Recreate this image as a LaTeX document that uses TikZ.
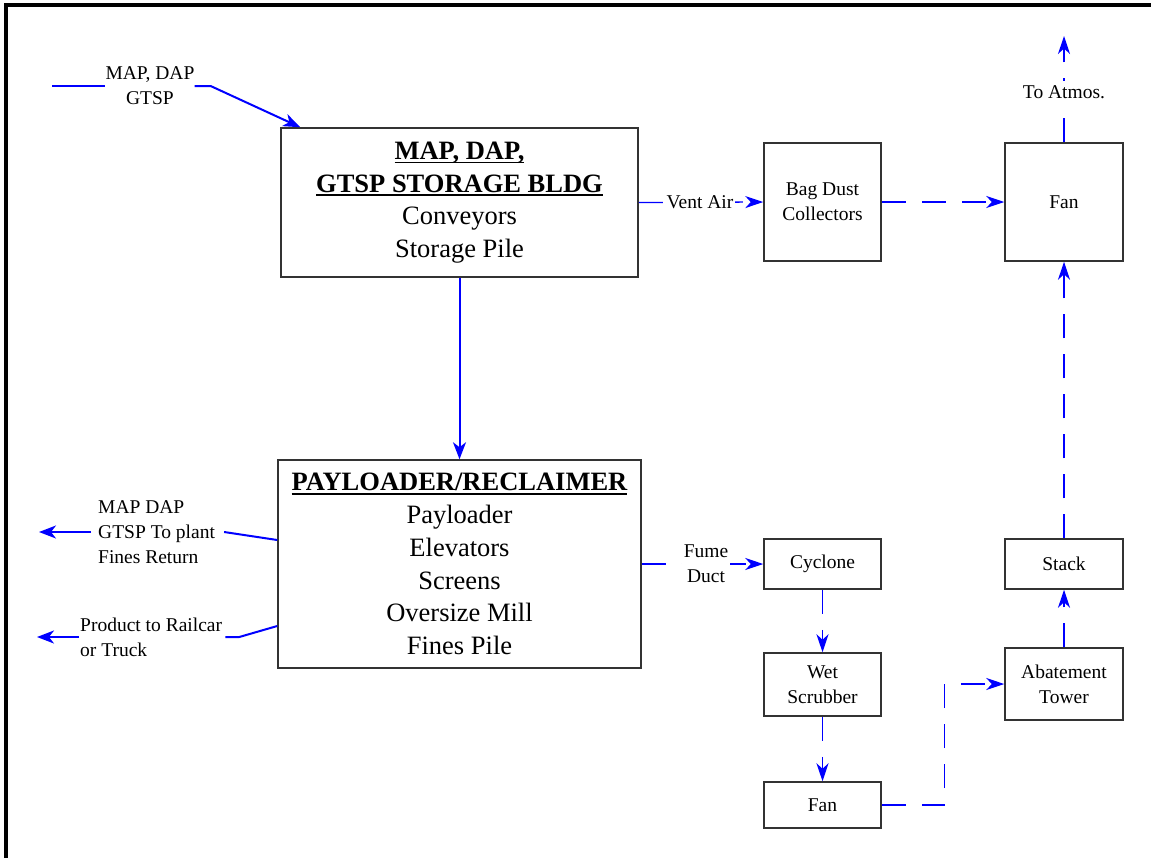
\documentclass[tikz,border=0pt]{standalone}
\usepackage{fontspec}
\setmainfont{Liberation Serif}
\usetikzlibrary{arrows.meta}
\newcommand{\ulbox}[1]{\setbox0\hbox{#1}\rlap{\rule[-4pt]{\wd0}{1.6pt}}\box0}
\tikzset{
  box/.style={draw=black!80, line width=1.5pt, inner sep=0pt, align=center, font=\fontsize{19.5}{25}\selectfont},
  bigbox/.style={box, font=\fontsize{26.5}{32.7}\selectfont},
  bline/.style={draw=blue, line width=2pt},
  flow/.style={bline, -{Stealth[length=17pt,width=13pt,inset=5pt]}},
  gas/.style={draw=blue, line width=1.3pt, dash pattern=on 24pt off 16pt, -{Stealth[length=18pt,width=12pt,inset=5.5pt]}},
  lbl/.style={font=\fontsize{19.5}{25}\selectfont, inner sep=0pt, align=center},
  flbl/.style={lbl, fill=white, inner xsep=2pt, inner ysep=4pt},
}
\begin{document}
\begin{tikzpicture}[x=1pt,y=-1pt]
\useasboundingbox (0,0) rectangle (1151,857);
% frame
\draw[line width=4pt] (5.5,870) -- (5.5,5) -- (1160,5);
% boxes
\node[bigbox, minimum width=357pt, minimum height=149pt] (sto) at (459.5,202.5)
  {\textbf{\ulbox{MAP, DAP,}}\\\textbf{\ulbox{GTSP STORAGE BLDG}}\\Conveyors\\Storage Pile};
\node[bigbox, minimum width=363pt, minimum height=208pt] (pay) at (459.5,564)
  {\textbf{\ulbox{PAYLOADER/RECLAIMER}}\\Payloader\\Elevators\\Screens\\Oversize Mill\\Fines Pile};
\node[box, minimum width=117pt, minimum height=118pt] (bag) at (822.5,202) {Bag Dust\\Collectors};
\node[box, minimum width=118pt, minimum height=118pt] (fant) at (1064,202) {Fan};
\node[box, minimum width=117pt, minimum height=50pt] (cyc) at (822.5,564) {Cyclone};
\node[box, minimum width=117pt, minimum height=63pt] (wet) at (822.5,684.5) {Wet\\Scrubber};
\node[box, minimum width=117pt, minimum height=46pt] (fanb) at (822.5,805) {Fan};
\node[box, minimum width=118pt, minimum height=72pt] (abat) at (1064,684) {Abatement\\Tower};
\node[box, minimum width=118pt, minimum height=50pt] (stack) at (1064,564) {Stack};
% plain labels
\node[lbl] (lin) at (150,86) {MAP, DAP\\GTSP};
\node[lbl, align=left, anchor=west] (lA) at (98,532) {MAP DAP\\GTSP To plant\\Fines Return};
\node[lbl, align=left, anchor=west] (lB) at (80,637) {Product to Railcar\\or Truck};
% free ends
\coordinate (inS) at (52,86);
\coordinate (oA) at (39,532);
\coordinate (oB) at (37,637);
\coordinate (atm) at (1064,36);
% solid material flows
\draw[bline] (inS) -- (lin.west);
\draw[flow] (lin.east) -- ++(16,0) -- ([xshift=20pt]sto.north west);
\draw[flow] (sto.south) -- (pay.north);
\draw[flow] ([xshift=-7pt]lA.west) -- (oA);
\draw[bline] ([xshift=9pt]lA.east) -- ([yshift=24pt]pay.west);
\draw[flow] ([xshift=-1pt]lB.west) -- (oB);
\draw[bline] ([xshift=3pt]lB.east) -- ++(14,0) -- ([yshift=-62pt]pay.west);
% gas flows
\draw[gas] (sto.east) -- (bag.west);
\draw[gas] (bag.east) -- (fant.west);
\draw[gas] (fant.north) -- (atm);
\draw[gas] (pay.east) -- (cyc.west);
\draw[gas] (cyc.south) -- (wet.north);
\draw[gas] (wet.south) -- (fanb.north);
\draw[gas] (fanb.east) -- ++(63,0) |- (abat.west);
\draw[gas] (abat.north) -- (stack.south);
\draw[gas] (stack.north) -- (fant.south);
% labels over gas lines
\node[flbl] (lvent) at (700,202) {Vent Air};
\node[flbl, inner ysep=2pt] (lfume) at (706,564) {Fume\\Duct};
\node[flbl] (latm) at (1064,92) {To Atmos.};
\end{tikzpicture}
\end{document}
